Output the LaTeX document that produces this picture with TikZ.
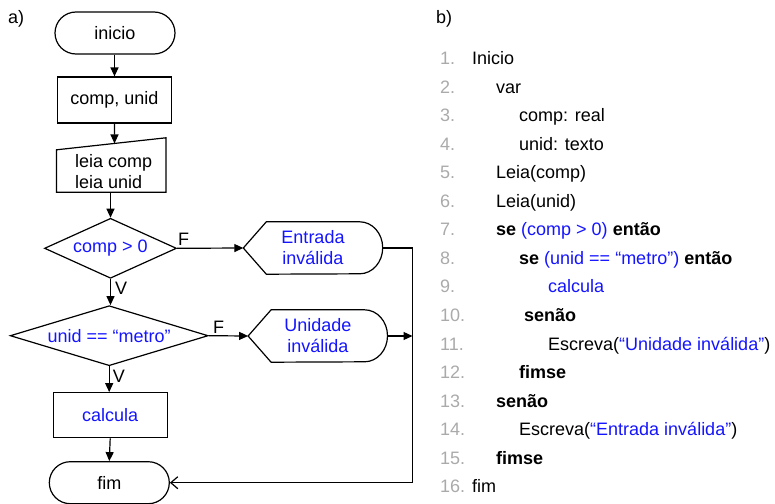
\documentclass[tikz,border=0pt]{standalone}
\usepackage{fontspec}
\setmainfont{Liberation Sans}
\usetikzlibrary{shapes.misc,shapes.geometric,arrows.meta,calc}
\definecolor{numgray}{RGB}{170,170,170}
\definecolor{txtblue}{RGB}{20,20,255}
\begin{document}
\begin{tikzpicture}[x=1pt,y=-1pt,
  every node/.style={font=\fontsize{18pt}{21pt}\selectfont, inner sep=0pt},
  ln/.style={line width=1.2pt},
  arr/.style={ln,-{Triangle[length=9pt,width=8pt]}},
  oarr/.style={ln,-{Straight Barb[length=7pt,width=12pt,line width=1.2pt]}},
  term/.style={rounded rectangle, draw, ln, minimum width=120pt, minimum height=42pt},
  procbox/.style={rectangle, draw, ln, minimum width=114pt, minimum height=45pt},
  decis/.style={diamond, draw, ln, text=txtblue},
  lbl/.style={font=\fontsize{18pt}{21pt}\selectfont},
  num/.style={anchor=base west, text=numgray},
  code/.style={anchor=base west}
]
\useasboundingbox (0,0) rectangle (775,503);

% labels
\node[code] (la) at (8,24) {a)};
\node[code] (lb) at (436,24) {b)};

% flowchart
\node[term] (inicio) at (115,33) {inicio};
\node[procbox, minimum height=46pt] (comp) at (114.5,100) {comp, unid};
\node[minimum width=109pt, minimum height=54pt] (leia) at (111.2,165) {};
\draw[ln] (leia.south west) -- (leia.south east) -- (leia.north east)
  -- ($(leia.north west)+(0,12)$) -- cycle;
\coordinate (lt) at ($(leia.north west)+(0,12)$);
\node[anchor=west, align=left] (leiatxt) at (75,172) {leia comp\\leia unid};

\node[decis, aspect=2.2, minimum width=132pt, minimum height=60pt] (d1) at (110.5,248.3) {comp > 0};
\node[decis, aspect=3.3, minimum width=198pt, minimum height=60pt] (d2) at (109.2,335.7) {unid == “metro”};
\node[procbox, text=txtblue] (calc) at (110.2,415.2) {calcula};
\node[term] (fim) at (109.3,482.7) {fim};

% display shapes
\node[minimum width=139pt, minimum height=52pt, align=center, text=txtblue] (ent) at (313,248) {Entrada\\inválida};
\draw[ln] (ent.west) -- ($(ent.north west)+(23,0)$) -- ($(ent.north east)+(-23,0)$)
  arc[start angle=90, end angle=-90, x radius=23pt, y radius=26pt]
  -- ($(ent.south west)+(23,0)$) -- cycle;
\node[minimum width=139pt, minimum height=52pt, align=center, text=txtblue] (uni) at (317.8,336) {Unidade\\inválida};
\draw[ln] (uni.west) -- ($(uni.north west)+(23,0)$) -- ($(uni.north east)+(-23,0)$)
  arc[start angle=90, end angle=-90, x radius=23pt, y radius=26pt]
  -- ($(uni.south west)+(23,0)$) -- cycle;

\coordinate (c1) at (412.5,248);
\coordinate (c2) at (412.5,336);
\coordinate (c3) at (412.5,482.7);

% connectors
\draw[arr] (inicio.south -| comp.north) -- (comp.north);
\draw[arr] (comp.south) -- (intersection of comp.south--{$(comp.south)+(0,40)$} and lt--leia.north east);
\draw[arr] (leia.south -| d1.north) -- (d1.north);
\draw[arr] (d1.east) -- node[lbl, pos=0.1, above=2pt] (f1) {F} (ent.west);
\draw[arr] (d1.south) -- node[lbl, right=4pt, pos=0.35] (v1) {V} (d1.south |- d2.north);
\draw[arr] (d2.east) -- node[lbl, pos=0.25, above=2pt] (f2) {F} (uni.west);
\draw[arr] (d2.south) -- node[lbl, right=3pt, pos=0.4] (v2) {V} (d2.south |- calc.north);
\draw[arr] (calc.south) -- (fim.north);
\draw[ln] (ent.east) -- (c1) -- (c3);
\draw[arr] (uni.east) -- (c2);
\draw[oarr] (c3) -- (fim.east);

% pseudocode
\foreach \i/\n in {1/1.,2/2.,3/3.,4/4.,5/5.,6/6.,7/7.,8/8.,9/9.,10/10.,11/11.,12/12.,13/13.,14/14.,15/15.,16/16.}{
  \node[num] (n\i) at (440,{64.5+(\i-1)*28.55}) {\n};
}
\node[code] (t1) at (472,64.5) {Inicio};
\node[code] (t2) at (496,93.05) {var};
\node[code] (t3) at (519,121.6) {comp: real};
\node[code] (t4) at (519,150.15) {unid: texto};
\node[code] (t5) at (496,178.7) {Leia(comp)};
\node[code] (t6) at (496,207.25) {Leia(unid)};
\node[code] (t7) at (496,235.8) {\textbf{se} \textcolor{txtblue}{(comp > 0)} \textbf{então}};
\node[code] (t8) at (519,264.35) {\textbf{se} \textcolor{txtblue}{(unid == “metro”)} \textbf{então}};
\node[code, text=txtblue] (t9) at (548,292.9) {calcula};
\node[code] (t10) at (524,321.45) {\textbf{senão}};
\node[code] (t11) at (548,350) {Escreva(\textcolor{txtblue}{“Unidade inválida”})};
\node[code] (t12) at (519,378.55) {\textbf{fimse}};
\node[code] (t13) at (496,407.1) {\textbf{senão}};
\node[code] (t14) at (519,435.65) {Escreva(\textcolor{txtblue}{“Entrada inválida”})};
\node[code] (t15) at (496,464.2) {\textbf{fimse}};
\node[code] (t16) at (472,492.75) {fim};
\end{tikzpicture}
\end{document}
